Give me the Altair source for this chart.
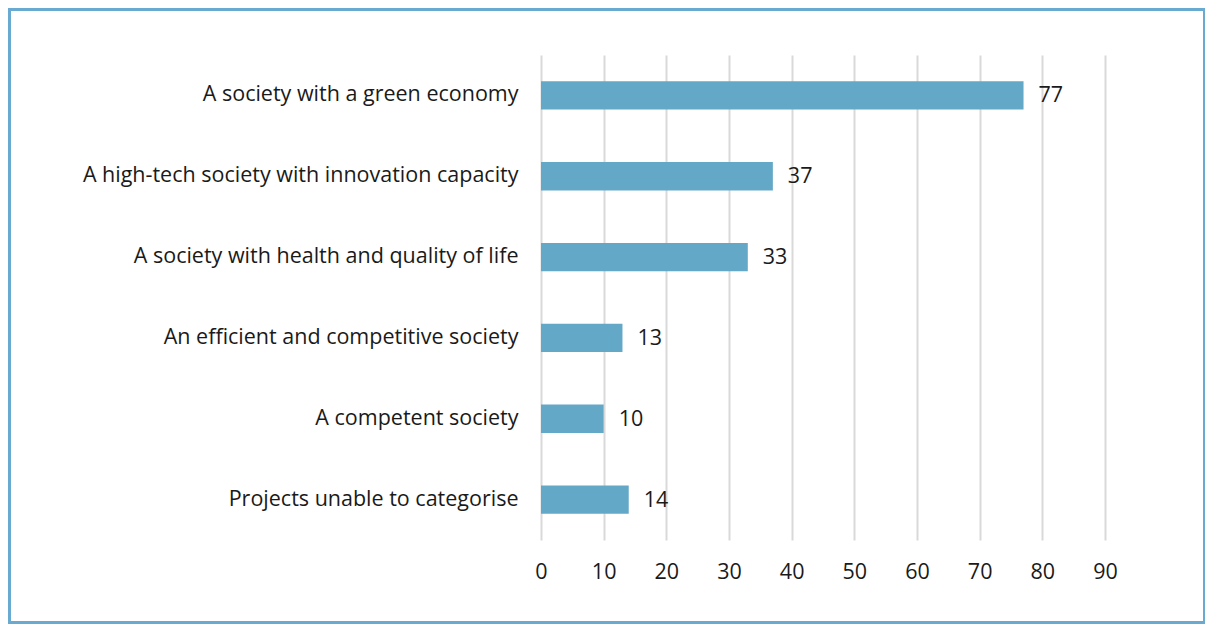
import altair as alt
import pandas as pd

categories = [
    "A society with a green economy",
    "A high-tech society with innovation capacity",
    "A society with health and quality of life",
    "An efficient and competitive society",
    "A competent society",
    "Projects unable to categorise",
]
values = [77, 37, 33, 13, 10, 14]
x_ticks = [0, 10, 20, 30, 40, 50, 60, 70, 80, 90]

df = pd.DataFrame({"category": categories, "value": values})

FONT = "Open Sans"
BAR = "#64a8c8"
TEXT = "#1a1a1a"
FS = 21.5

y_enc = alt.Y(
    "category:N",
    sort=categories,
    scale=alt.Scale(paddingInner=0.65, paddingOuter=0.325),
    axis=alt.Axis(
        title=None, ticks=False, domain=False, labelPadding=23,
        labelFontSize=FS, labelColor=TEXT, labelFont=FONT, grid=False,
        labelLimit=520,
    ),
)
x_enc = alt.X(
    "value:Q",
    scale=alt.Scale(domain=[0, 90], nice=False),
    axis=alt.Axis(
        title=None, values=x_ticks, ticks=False, domain=False, labelPadding=21,
        labelFontSize=FS, labelColor=TEXT, labelFont=FONT, labelFlush=False,
        grid=True, gridColor="#d9d9d9", gridWidth=2,
    ),
)

bars = alt.Chart(df).mark_bar(color=BAR).encode(x=x_enc, y=y_enc)
labels = alt.Chart(df).mark_text(
    align="left", baseline="middle", dx=15, dy=1, fontSize=FS, font=FONT, color=TEXT
).encode(x="value:Q", y=alt.Y("category:N", sort=categories), text="value:Q")

border = alt.Chart(df).mark_rect(
    fill=None, stroke="#6aaad0", strokeWidth=2.5, clip=False
).encode(
    x=alt.value(-531.5), x2=alt.value(663.5), y=alt.value(-45.5), y2=alt.value(567.5)
)

chart = alt.layer(bars, labels, border).properties(
    width=564,
    height=485,
    autosize=alt.AutoSizeParams(type="none"),
    padding={"left": 533, "top": 47, "right": 100, "bottom": 84},
).configure_view(stroke=None)

chart.save("out.html", embed_options={"renderer": "svg", "actions": False})
